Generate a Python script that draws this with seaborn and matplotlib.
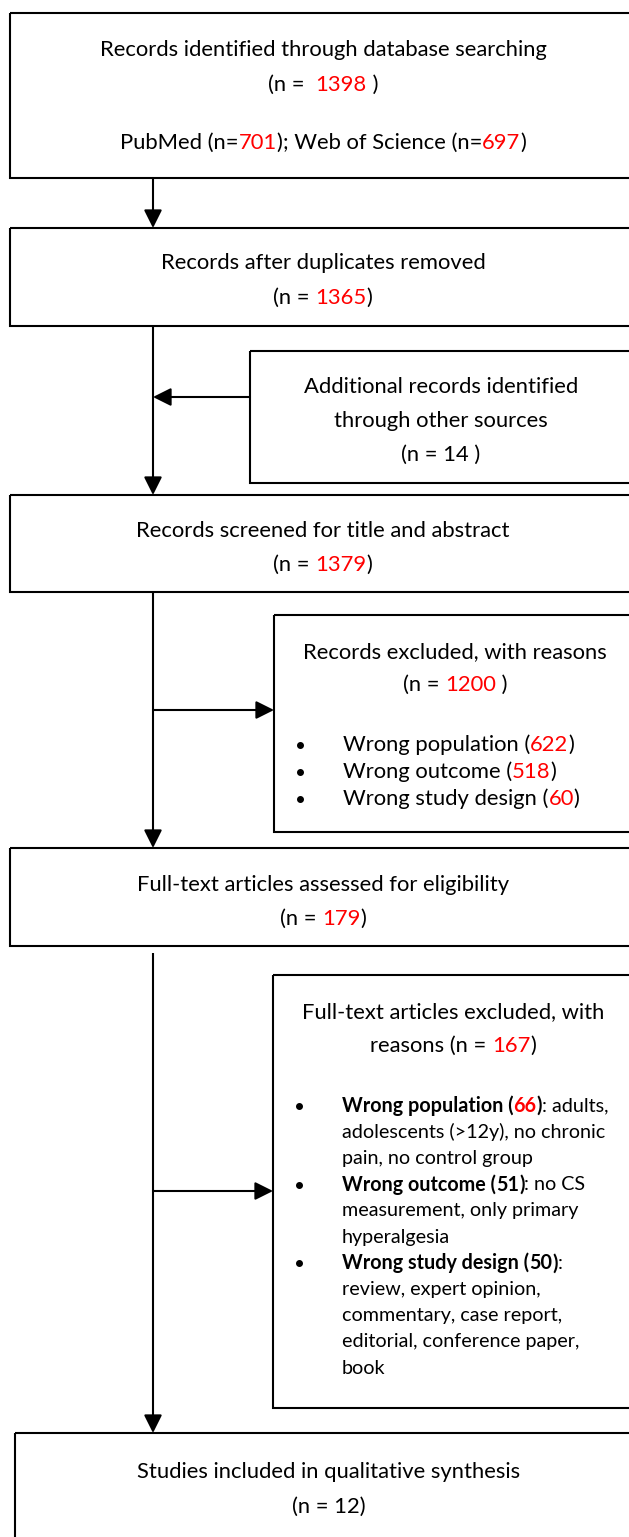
import matplotlib
matplotlib.use("Agg")
import matplotlib.pyplot as plt
import seaborn as sns
from matplotlib.patches import Rectangle

sns.set_theme(style="white")
plt.rcParams['font.family'] = ['Lato', 'DejaVu Sans']

# PRISMA counts
n_identified = 1398
n_pubmed = 701
n_wos = 697
n_after_dupes = 1365
n_other = 14
n_screened = 1379
n_excluded = 1200
excl_reasons = ['Wrong population', 'Wrong outcome', 'Wrong study design']
excl_counts = [622, 518, 60]
n_fulltext = 179
n_ft_excluded = 167
ft_reasons = ['Wrong population', 'Wrong outcome', 'Wrong study design']
ft_counts = [66, 51, 50]
n_included = 12

RED = '#ff0000'
FS = 15.8
FS_SMALL = 14.2

W, H = 629, 1537
fig = plt.figure(figsize=(W / 100, H / 100), dpi=100)
ax = fig.add_axes([0, 0, 1, 1])
ax.set_xlim(0, W)
ax.set_ylim(H, 0)
ax.axis('off')
renderer = fig.canvas.get_renderer()


def text_width(s, weight='normal', size=FS):
    # width in px (== data units here), trailing spaces kept via a bar trick
    t = ax.text(0, 0, s + '|', fontsize=size, fontweight=weight)
    b = ax.text(0, 0, '|', fontsize=size, fontweight=weight)
    w = t.get_window_extent(renderer).width - b.get_window_extent(renderer).width
    t.remove()
    b.remove()
    return w


def rich(x, y, parts, ha='center', clip=None, size=FS):
    # parts: list of (text, color, weight)
    widths = [text_width(s, w, size) for s, c, w in parts]
    x0 = x - sum(widths) / 2 if ha == 'center' else x
    for (s, c, w), wd in zip(parts, widths):
        t = ax.text(x0, y, s, color=c, fontweight=w, fontsize=size,
                    ha='left', va='center')
        if clip is not None:
            t.set_clip_path(clip)
        x0 += wd


def box(x0, y0, x1, y1):
    r = Rectangle((x0, y0), x1 - x0, y1 - y0, fill=False, ec='black', lw=1.5)
    ax.add_patch(r)
    return r


def arrow(xa, ya, xb, yb):
    ax.annotate('', xy=(xb, yb), xytext=(xa, ya),
                arrowprops=dict(arrowstyle='-|>,head_length=1.0,head_width=0.5',
                                color='black', lw=1.5, shrinkA=0, shrinkB=0,
                                mutation_scale=11))


def line(xa, ya, xb, yb):
    ax.plot([xa, xb], [ya, yb], color='black', lw=1.5, solid_capstyle='butt')


K = 'black'
CX = 323
XL = 153

# box 1
box(10, 13, 660, 178)
rich(CX, 50, [('Records identified through database searching', K, 'normal')])
rich(CX, 85, [('(n =  ', K, 'normal'), (str(n_identified), RED, 'normal'), (' )', K, 'normal')])
rich(CX, 143, [('PubMed (n=', K, 'normal'), (str(n_pubmed), RED, 'normal'),
               ('); Web of Science (n=', K, 'normal'), (str(n_wos), RED, 'normal'),
               (')', K, 'normal')])
arrow(XL, 178, XL, 228)

# box 2
box(10, 228, 660, 326)
clip2 = Rectangle((0, 228), W, 305 - 228, transform=ax.transData)
rich(CX, 263, [('Records after duplicates removed', K, 'normal')])
rich(CX, 298, [('(n = ', K, 'normal'), (str(n_after_dupes), RED, 'normal'), (')', K, 'normal')], clip=clip2)

# other sources
box(250, 351, 660, 483)
rich(441, 387, [('Additional records identified', K, 'normal')])
rich(441, 421, [('through other sources', K, 'normal')])
rich(441, 455, [('(n = ' + str(n_other) + ' )', K, 'normal')])
line(XL, 326, XL, 397)
arrow(250, 397, XL, 397)
arrow(XL, 397, XL, 495)

# box 3
box(10, 495, 660, 592)
clip3 = Rectangle((0, 495), W, 573 - 495, transform=ax.transData)
rich(CX, 531, [('Records screened for title and abstract', K, 'normal')])
rich(CX, 565, [('(n = ', K, 'normal'), (str(n_screened), RED, 'normal'), (')', K, 'normal')], clip=clip3)

# excluded records
box(274, 615, 660, 832)
rich(455, 652, [('Records excluded, with reasons', K, 'normal')])
rich(455, 685, [('(n = ', K, 'normal'), (str(n_excluded), RED, 'normal'), (' )', K, 'normal')])
for i, (lab, c) in enumerate(zip(excl_reasons, excl_counts)):
    y = 745 + 27 * i
    ax.plot(300, y, 'o', color='black', ms=4)
    rich(343, y, [(lab + ' (', K, 'normal'), (str(c), RED, 'normal'), (')', K, 'normal')], ha='left')
line(XL, 592, XL, 710)
arrow(XL, 710, 274, 710)
arrow(XL, 710, XL, 848)

# box 4
box(10, 848, 660, 946)
rich(CX, 885, [('Full-text articles assessed for eligibility', K, 'normal')])
rich(CX, 919, [('(n = ', K, 'normal'), (str(n_fulltext), RED, 'normal'), (')', K, 'normal')])

# full-text excluded
box(273, 975, 660, 1408)
rich(453, 1012, [('Full-text articles excluded, with', K, 'normal')])
rich(453, 1046, [('reasons (n = ', K, 'normal'), (str(n_ft_excluded), RED, 'normal'), (')', K, 'normal')])
ft_details = [
    ['adults,', 'adolescents (>12y), no chronic', 'pain, no control group'],
    ['no CS', 'measurement, only primary', 'hyperalgesia'],
    ['', 'review, expert opinion,', 'commentary, case report,',
     'editorial, conference paper,', 'book'],
]
ft_colors = [RED, K, K]
y = 1106
LH = 26.2
for lab, c, col, det in zip(ft_reasons, ft_counts, ft_colors, ft_details):
    ax.plot(299, y, 'o', color='black', ms=4)
    first = (' ' + det[0]) if det[0] else ''
    rich(342, y, [(lab + ' (', K, 'bold'), (str(c), col, 'bold'), (')', K, 'bold'),
                  (':' + first, K, 'normal')], ha='left', size=FS_SMALL)
    y += LH
    for d in det[1:]:
        rich(342, y, [(d, K, 'normal')], ha='left', size=FS_SMALL)
        y += LH
line(XL, 953, XL, 1191)
arrow(XL, 1191, 273, 1191)
arrow(XL, 1191, XL, 1433)

# box 5
box(15, 1433, 660, 1600)
rich(329, 1472, [('Studies included in qualitative synthesis', K, 'normal')])
rich(329, 1507, [('(n = ' + str(n_included) + ')', K, 'normal')])

fig.savefig('out.png', dpi=100)
